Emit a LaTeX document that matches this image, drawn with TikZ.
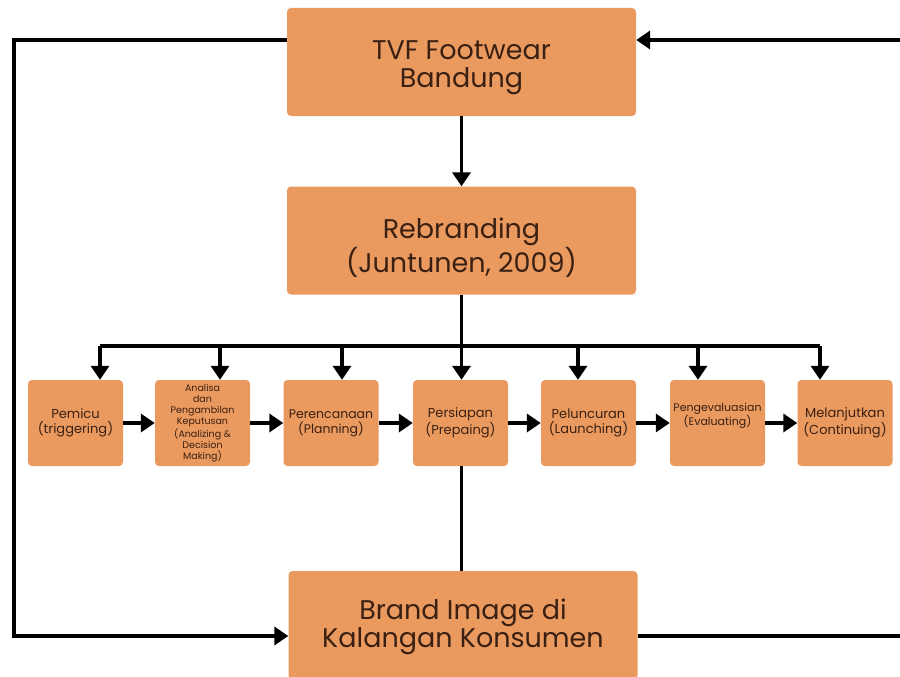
\documentclass[tikz,border=0pt]{standalone}
\usepackage{fontspec}
\setmainfont{Poppins}
\usetikzlibrary{arrows.meta}
\definecolor{boxfill}{HTML}{EA9A5F}
\definecolor{boxtext}{HTML}{3A2012}
\begin{document}
\begin{tikzpicture}[x=1pt,y=-1pt,
  bigbox/.style={draw=none,fill=boxfill,rounded corners=4pt,minimum width=349pt,minimum height=108pt,inner sep=0pt},
  bigtext/.style={align=center,text=boxtext,inner sep=0pt,font=\fontsize{27}{28}\selectfont},
  smallbox/.style={draw=none,fill=boxfill,rounded corners=4pt,minimum width=95pt,minimum height=86pt,inner sep=0pt,align=center,text=boxtext,font=\fontsize{13}{15.5}\selectfont},
  conn/.style={line width=3.5pt,draw=black},
  arr/.style={conn,-{Triangle[width=18pt,length=14pt]}}]
\useasboundingbox (0,0) rectangle (900,677);
\clip (0,0) rectangle (900,677);
\fill[white] (0,0) rectangle (900,677);
\node[bigbox,label={[bigtext,yshift=-6pt]center:TVF Footwear\\Bandung}] (tvf) at (461.5,62) {};
\node[bigbox,label={[bigtext,yshift=-7pt]center:Rebranding\\(Juntunen, 2009)}] (reb) at (461.5,240.5) {};
\node[bigbox,label={[bigtext,yshift=-2pt]center:Brand Image di\\Kalangan Konsumen}] (brand) at (463,625) {};
\node[smallbox] (s1) at (75.5,423) {Pemicu\\(triggering)};
\node[smallbox,font=\fontsize{9.5}{11}\selectfont] (s2) at (202.5,423) {Analisa\\dan\\Pengambilan\\Keputusan\\(Analizing \&\\Decision\\Making)};
\node[smallbox,font=\fontsize{12.5}{15}\selectfont] (s3) at (331,423) {Perencanaan\\(Planning)};
\node[smallbox] (s4) at (460.5,423) {Persiapan\\(Prepaing)};
\node[smallbox] (s5) at (588.5,423) {Peluncuran\\(Launching)};
\node[smallbox,font=\fontsize{11}{13}\selectfont] (s6) at (717.5,423) {Pengevaluasian\\(Evaluating)\\[5pt]};
\node[smallbox] (s7) at (845,423) {Melanjutkan\\(Continuing)};
% coordinates
\coordinate (busL) at (100,346);
\coordinate (busR) at (820,346);
\coordinate (d2) at (220,346);
\coordinate (d3) at (342,346);
\coordinate (d5) at (578,346);
\coordinate (d6) at (698,346);
\coordinate (L1) at (14,40);
\coordinate (L2) at (14,636);
\coordinate (R1) at (905,636);
\coordinate (R2) at (905,40);
% main vertical
\draw[arr] (tvf.south) -- (reb.north);
\draw[arr] (reb.south) -- (s4.north -| reb.south);
\draw[conn] (busL) -- (busR);
\draw[arr] (busL) -- (busL |- s1.north);
\draw[arr] (d2) -- (d2 |- s2.north);
\draw[arr] (d3) -- (d3 |- s3.north);
\draw[arr] (d5) -- (d5 |- s5.north);
\draw[arr] (d6) -- (d6 |- s6.north);
\draw[arr] (busR) -- (busR |- s7.north);
% horizontal chain
\draw[arr] (s1.east) -- (s2.west);
\draw[arr] (s2.east) -- (s3.west);
\draw[arr] (s3.east) -- (s4.west);
\draw[arr] (s4.east) -- (s5.west);
\draw[arr] (s5.east) -- (s6.west);
\draw[arr] (s6.east) -- (s7.west);
% persiapan to brand
\draw[conn] (s4.south -| reb.south) -- (brand.north -| reb.south);
% feedback loops
\draw[arr,line join=miter] (tvf.west |- L1) -- (L1) -- (L2) -- (brand.west |- L2);
\draw[arr,line join=miter] (brand.east |- R1) -- (R1) -- (R2) -- (tvf.east |- R2);
\end{tikzpicture}
\end{document}
